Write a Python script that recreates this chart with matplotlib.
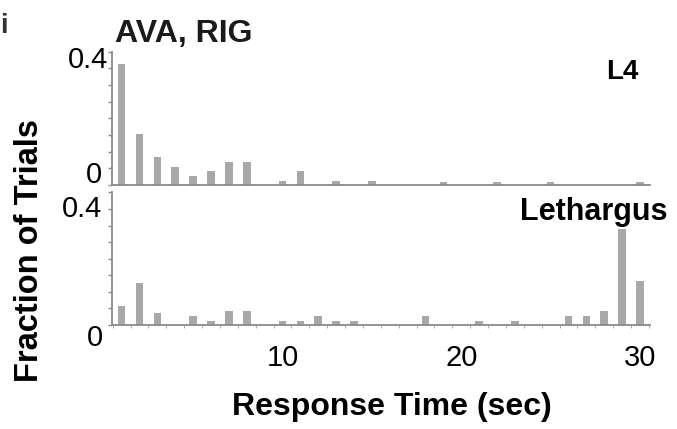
import numpy as np
import matplotlib
matplotlib.use("Agg")
import matplotlib.pyplot as plt
from matplotlib.transforms import ScaledTranslation, blended_transform_factory

plt.rcParams['font.family'] = ['Liberation Sans', 'DejaVu Sans']

# ---- data ----
seconds = list(range(1, 31))
l4_frac = [0.363, 0.153, 0.084, 0.054, 0.027, 0.042, 0.069, 0.069, 0.0, 0.012,
           0.042, 0.0, 0.012, 0.0, 0.012, 0.0, 0.0, 0.0, 0.010, 0.0,
           0.0, 0.010, 0.0, 0.0, 0.010, 0.0, 0.0, 0.0, 0.0, 0.010]
lethargus_frac = [0.058, 0.128, 0.036, 0.0, 0.027, 0.012, 0.042, 0.042, 0.0, 0.012,
                  0.012, 0.028, 0.012, 0.012, 0.0, 0.0, 0.0, 0.028, 0.0, 0.0,
                  0.012, 0.0, 0.012, 0.0, 0.0, 0.027, 0.027, 0.042, 0.290, 0.133]
x_ticks = [10, 20, 30]
x_tick_labels = ["10", "20", "30"]
y_labels = [(0.0, "0"), (0.4, "0.4")]
panel_titles = ["L4", "Lethargus"]

W, H = 677, 429
DPI = 100
fig = plt.figure(figsize=(W / DPI, H / DPI), dpi=DPI)

bar_color = '#a8a8a8'
axis_color = '#8a8a8a'

def px_rect(left, top, right, bottom):
    return [left / W, 1 - bottom / H, (right - left) / W, (bottom - top) / H]

ax_top = fig.add_axes(px_rect(112, 51.7, 650, 185))
ax_bot = fig.add_axes(px_rect(112, 192.5, 650, 325))

# label offsets in px: (dx of right edge from axis, dy of baseline below value)
label_offsets = {
    0: {0.4: (-4, 16.5), 0.0: (-10, -2)},
    1: {0.4: (-10, 24.5), 0.0: (-9, 21)},
}

for i, (ax, vals) in enumerate([(ax_top, l4_frac), (ax_bot, lethargus_frac)]):
    ax.bar(seconds, vals, width=0.43, color=bar_color, edgecolor='none')
    ax.set_xlim(0.46, 30.56)
    ax.set_ylim(0, 0.4)
    for s in ['top', 'right']:
        ax.spines[s].set_visible(False)
    for s in ['left', 'bottom']:
        ax.spines[s].set_color(axis_color)
        ax.spines[s].set_linewidth(1.3)
    ax.set_yticks(np.arange(0, 0.401, 0.05))
    ax.set_yticklabels([])
    ax.tick_params(axis='y', length=3, width=1, color=axis_color, direction='out')
    ax.patch.set_alpha(0)
    for val, txt in y_labels:
        dx, dy = label_offsets[i][val]
        tr = blended_transform_factory(ax.transAxes, ax.transData) + \
            ScaledTranslation(dx / DPI, -dy / DPI, fig.dpi_scale_trans)
        ax.text(0, val, txt, transform=tr, ha='right', va='baseline',
                fontsize=21, color='black')

ax_top.set_xticks([])
ax_top.tick_params(axis='x', length=0)

ax_bot.set_xticks(x_ticks)
ax_bot.set_xticklabels(x_tick_labels, fontsize=21)
ax_bot.set_xticks(np.arange(0.5, 31, 1.0), minor=True)
ax_bot.tick_params(axis='x', which='major', length=0, pad=14)
ax_bot.tick_params(axis='x', which='minor', length=2, width=0.8, color='#b0b0b0')

# titles and labels
fig.text(115 / W, 1 - 42 / H, "AVA, RIG", fontsize=23, fontweight='bold',
         ha='left', va='baseline', color='#1a1a1a')
fig.text(639 / W, 1 - 79 / H, panel_titles[0], fontsize=20, fontweight='bold',
         ha='right', va='baseline')
fig.text(668 / W, 1 - 220 / H, panel_titles[1], fontsize=22, fontweight='bold',
         ha='right', va='baseline')
fig.text(392 / W, 1 - 415 / H, "Response Time (sec)", fontsize=23,
         fontweight='bold', ha='center', va='baseline')
fig.text(30 / W, 1 - 251 / H, "Fraction of Trials", fontsize=23.5,
         fontweight='bold', ha='center', va='center', rotation=90)
fig.text(0.5 / W, 1 - 33 / H, "i", fontsize=20, fontweight='bold',
         ha='left', va='baseline', color='#333333')

fig.savefig("out.png", dpi=DPI)
